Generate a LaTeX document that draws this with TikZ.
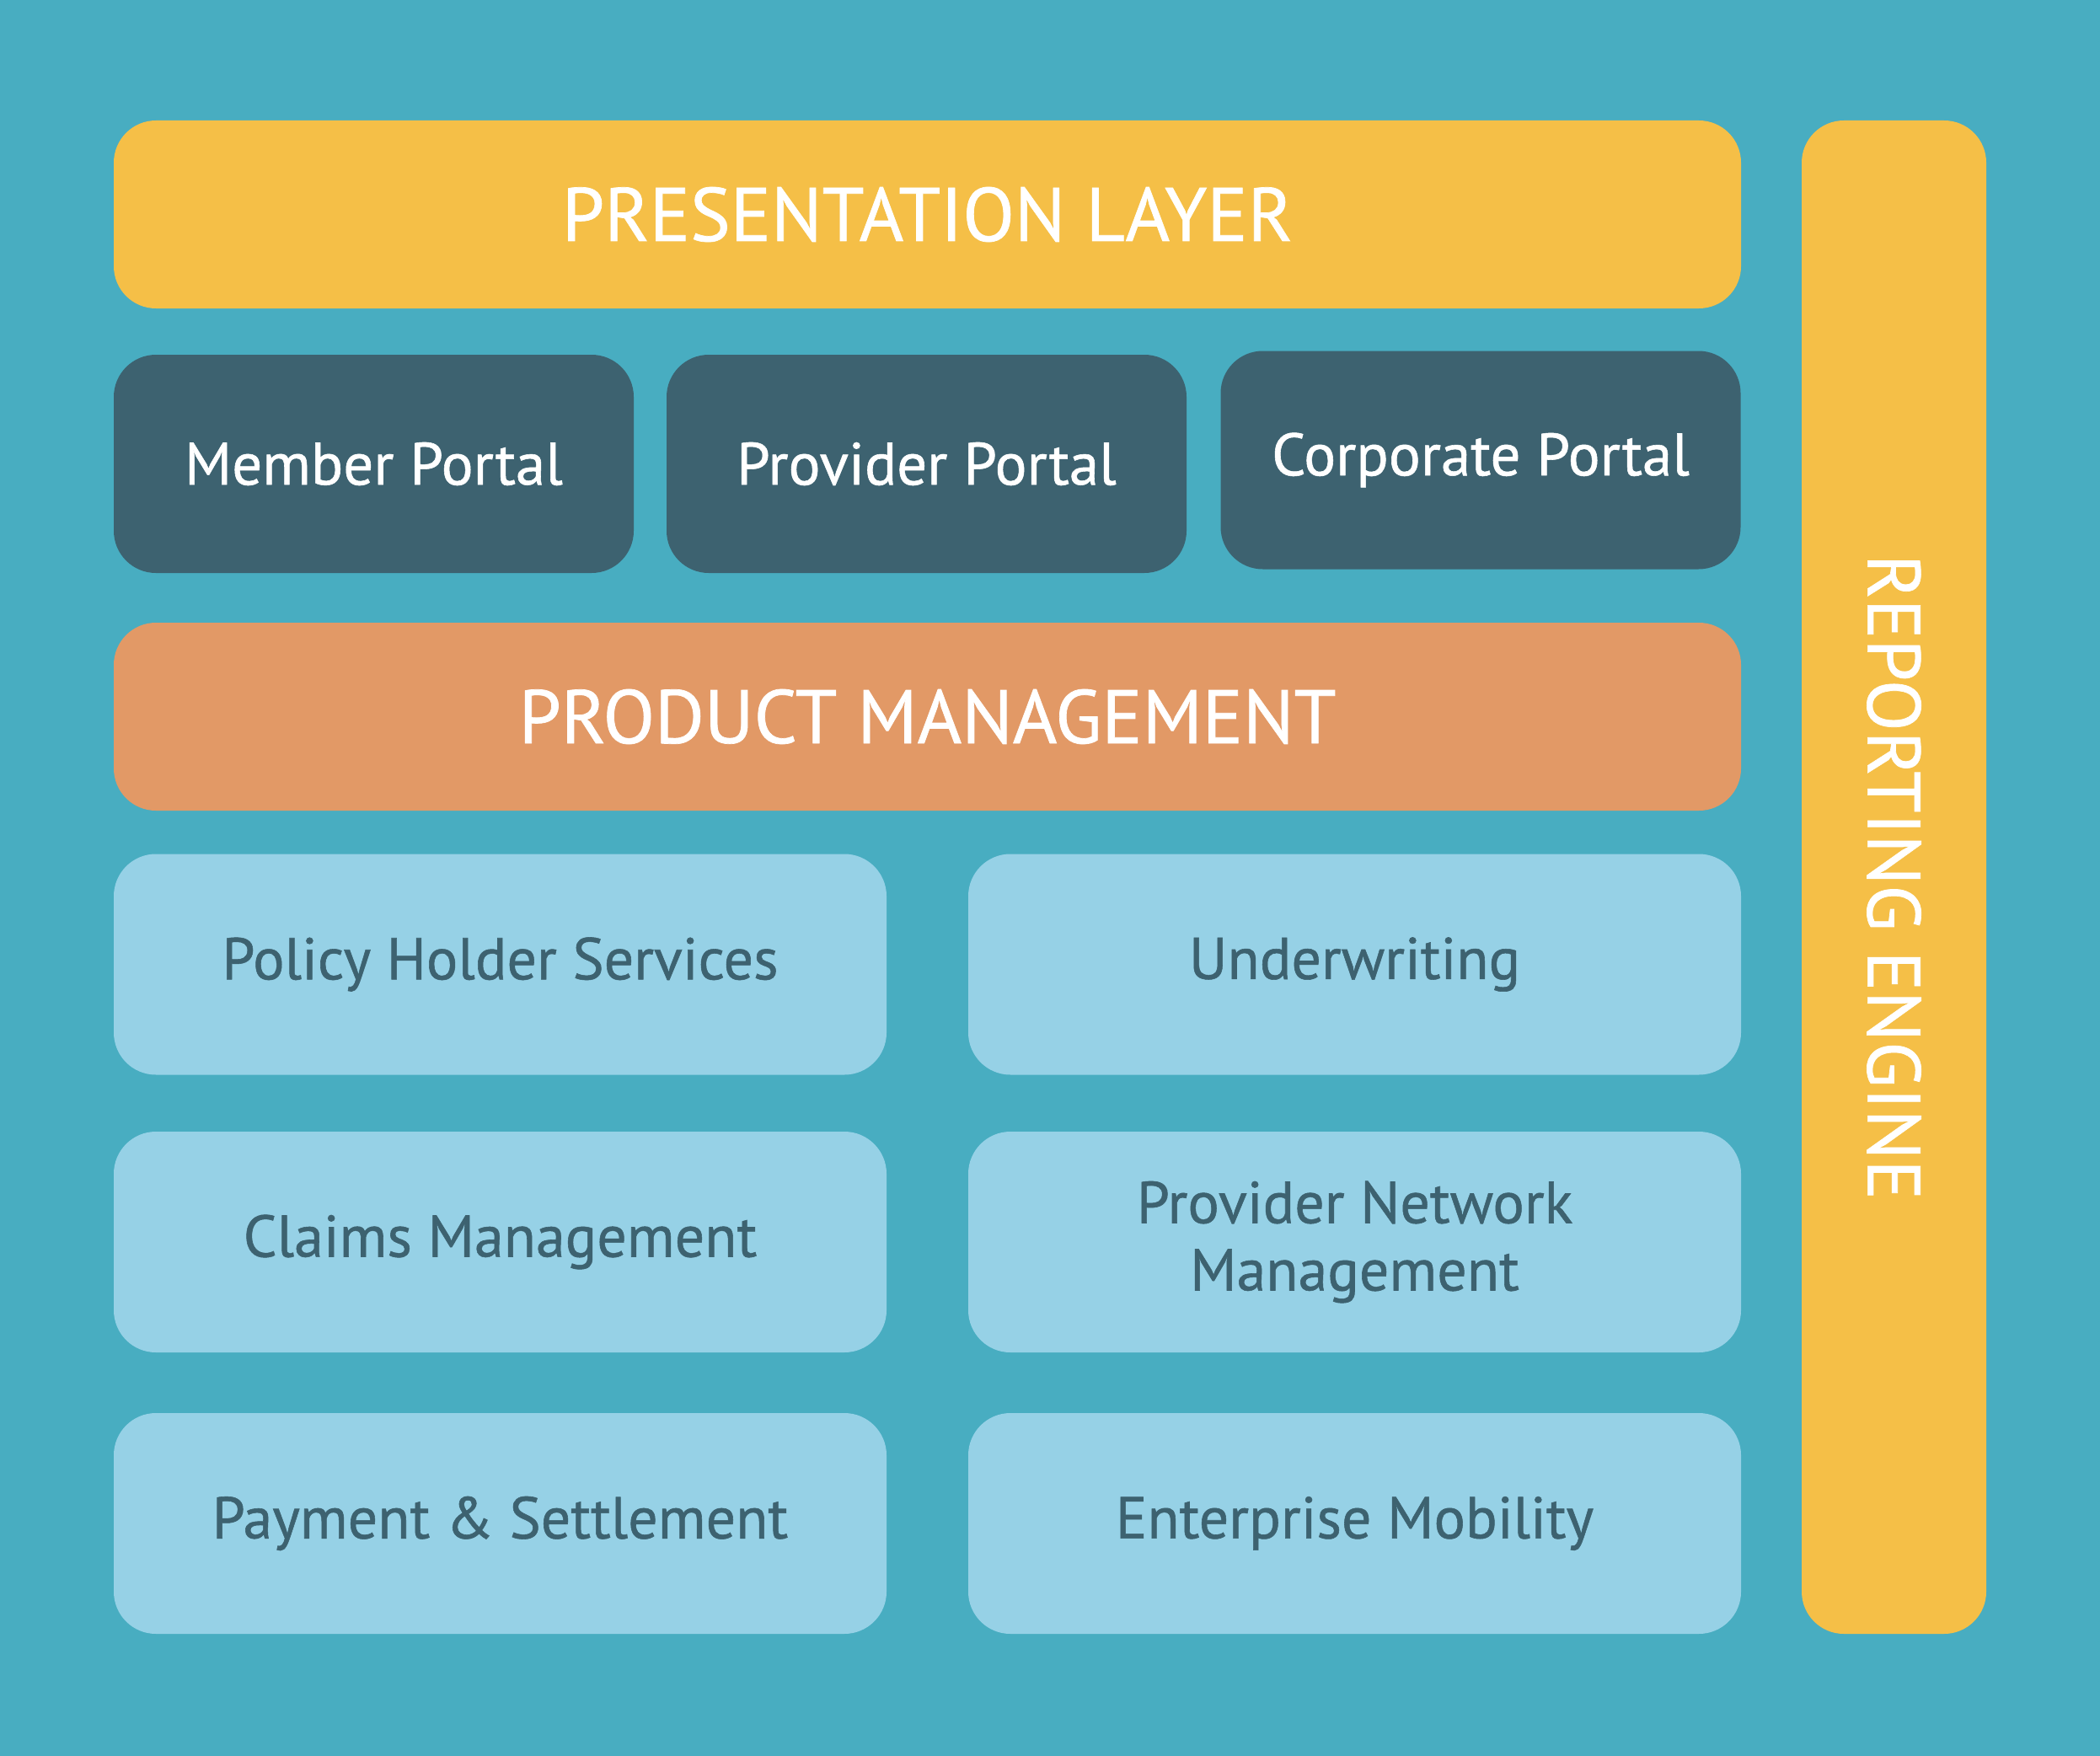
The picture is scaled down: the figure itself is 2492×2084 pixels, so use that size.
\documentclass[tikz,border=0pt]{standalone}
\usepackage{fontspec}
\setmainfont{PT Sans}[FakeBold=0.8]
\definecolor{bgteal}{HTML}{48ADC1}
\definecolor{layeryellow}{HTML}{F5BF47}
\definecolor{portaldark}{HTML}{3D6270}
\definecolor{productorange}{HTML}{E29966}
\definecolor{modulelight}{HTML}{96D1E6}

\begin{document}
\begin{tikzpicture}[x=1pt,y=-1pt,
	blockbox/.style={rounded corners=50pt,inner sep=0pt,align=center,text=white},
	layer/.style={blockbox,minimum width=1931pt,minimum height=223pt,font=\fontsize{90}{98}\selectfont},
	portal/.style={blockbox,fill=portaldark,minimum width=617pt,minimum height=259pt,font=\fontsize{71}{78}\selectfont},
	module/.style={blockbox,fill=modulelight,text=portaldark,minimum width=917pt,minimum height=262pt,font=\fontsize{70}{80}\selectfont}]
	\useasboundingbox (0,0) rectangle (2492,2084);
	\fill[bgteal] (0,0) rectangle (2492,2084);
	\node[layer,fill=layeryellow] (pres) at (1100.5,254.5) {PRESENTATION LAYER};
	\node[portal] (member) at (443.5,550.5) {Member Portal};
	\node[portal] (provider) at (1099.5,550.5) {Provider Portal};
	\node[portal] (corporate) at (1757,546) {Corporate Portal};
	\node[layer,fill=productorange] (product) at (1100.5,850.5) {PRODUCT MANAGEMENT};
	\node[module] (policy) at (593.5,1144.5) {Policy Holder Services};
	\node[module] (underwriting) at (1607.5,1144.5) {Underwriting};
	\node[module] (claims) at (593.5,1474) {Claims Management};
	\node[module] (network) at (1607.5,1474) {Provider Network\\Management};
	\node[module] (payment) at (593.5,1808) {Payment \& Settlement};
	\node[module] (mobility) at (1607.5,1808) {Enterprise Mobility};
	\node[blockbox,fill=layeryellow,minimum width=219pt,minimum height=1796pt] (reporting) at (2247.5,1041) {};
	\node[text=white,rotate=-90,font=\fontsize{89}{96}\selectfont] (reportlabel) at (reporting.center) {REPORTING ENGINE};
\end{tikzpicture}
\end{document}
